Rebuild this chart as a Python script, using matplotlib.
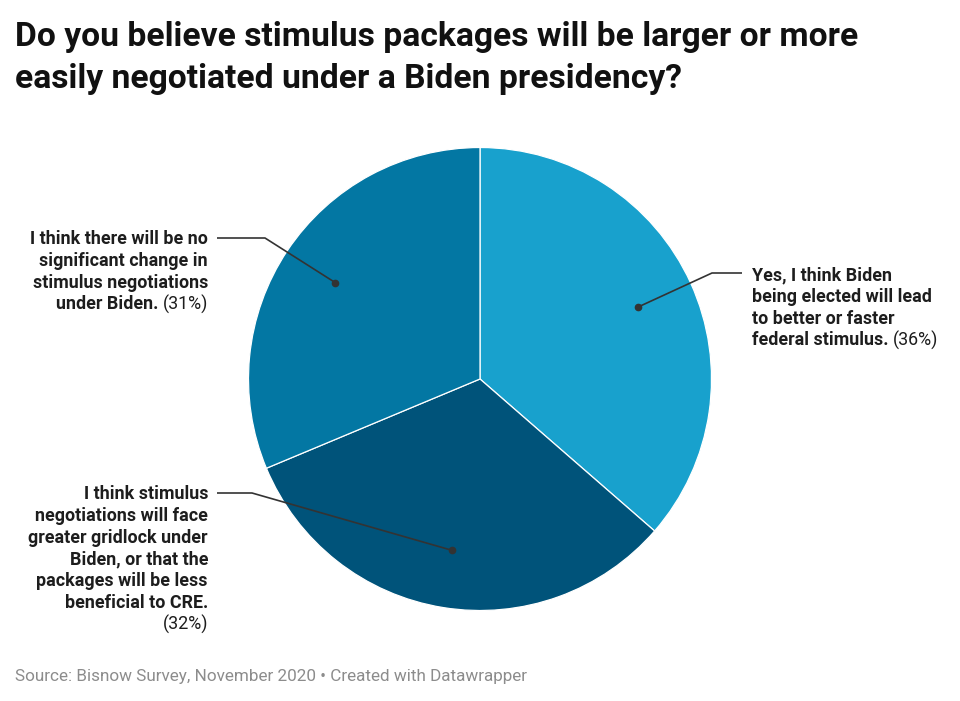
import numpy as np
import matplotlib.pyplot as plt

# data
labels = [
    ["Yes, I think Biden", "being elected will lead", "to better or faster", "federal stimulus."],
    ["I think stimulus", "negotiations will face", "greater gridlock under", "Biden, or that the",
     "packages will be less", "beneficial to CRE."],
    ["I think there will be no", "significant change in", "stimulus negotiations", "under Biden."],
]
shares = [36.4, 32.3, 31.3]
pct_text = ["(36%)", "(32%)", "(31%)"]
colors = ["#18a1cd", "#00537a", "#0377a3"]

W, H = 960, 701
fig = plt.figure(figsize=(W / 100, H / 100), dpi=100)
ax = fig.add_axes([0, 0, 1, 1])

cx, cy, R = 480, H - 379, 231.5
wedges, _ = ax.pie(shares, colors=colors, startangle=90, counterclock=False,
                   center=(cx, cy), radius=R,
                   wedgeprops=dict(edgecolor="white", linewidth=0.9))
ax.set_xlim(0, W)
ax.set_ylim(0, H)
ax.set_aspect("auto")
ax.axis("off")

font = "Roboto"
fs = 12.9
dark = "#1d1d1d"
lh = 21.8

fig.text(15 / W, 1 - 46 / H, "Do you believe stimulus packages will be larger or more",
         fontsize=24.2, fontweight="bold", family=font, color="#111111")
fig.text(15 / W, 1 - 88 / H, "easily negotiated under a Biden presidency?",
         fontsize=24.2, fontweight="bold", family=font, color="#111111")
fig.text(15 / W, 1 - 681 / H, "Source: Bisnow Survey, November 2020 • Created with Datawrapper",
         fontsize=12.3, family=font, color="#8c8c8c")

renderer = fig.canvas.get_renderer()


def width_of(t):
    return t.get_window_extent(renderer).width


# label layout: (x anchor, first baseline, ha, pct on own line, leader y, elbow x, line start x)
layout = [
    (752, 280, "left", False, 273, 712, 742),
    (208, 499, "right", True, 493, 252, 217),
    (208, 244, "right", False, 238, 265, 217),
]

for i, w in enumerate(wedges):
    x0, base, ha, own_line, ly, ex, sx = layout[i]
    lines = labels[i]
    for j, line in enumerate(lines):
        yb = H - (base + j * lh)
        if j == len(lines) - 1 and not own_line:
            if ha == "left":
                t = ax.text(x0, yb, line + " ", ha="left", va="baseline", fontsize=fs,
                            fontweight="bold", family=font, color=dark)
                ax.text(x0 + width_of(t), yb, pct_text[i], ha="left", va="baseline",
                        fontsize=fs, family=font, color=dark)
            else:
                p = ax.text(x0, yb, pct_text[i], ha="right", va="baseline", fontsize=fs,
                            family=font, color=dark)
                ax.text(x0 - width_of(p), yb, line + " ", ha="right", va="baseline",
                        fontsize=fs, fontweight="bold", family=font, color=dark)
        else:
            ax.text(x0, yb, line, ha=ha, va="baseline", fontsize=fs,
                    fontweight="bold", family=font, color=dark)
    if own_line:
        ax.text(x0, H - (base + len(lines) * lh), pct_text[i], ha=ha, va="baseline",
                fontsize=fs, family=font, color=dark)

    # leader dot at 3/4 radius, mid-angle of the wedge
    mid = np.deg2rad((w.theta1 + w.theta2) / 2)
    dx = cx + 0.75 * R * np.cos(mid)
    dy = cy + 0.75 * R * np.sin(mid)
    ax.plot([sx, ex, dx], [H - ly, H - ly, dy], color="#333333", lw=1.2,
            solid_capstyle="butt")
    ax.plot(dx, dy, "o", color="#333333", ms=4.5)

fig.savefig("out.png", dpi=100)
